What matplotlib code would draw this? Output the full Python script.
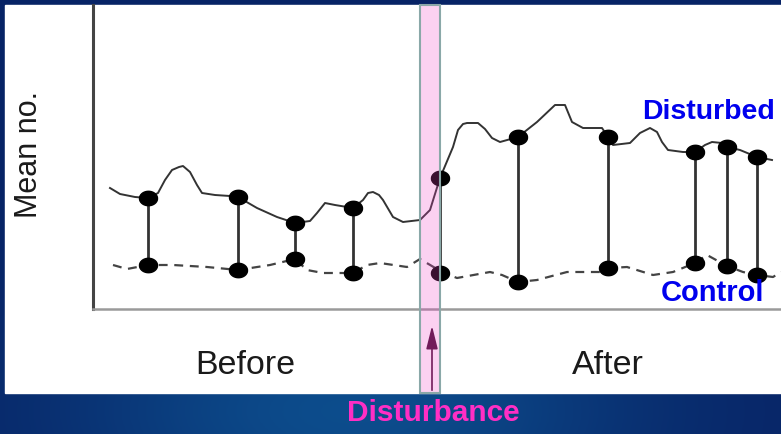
import numpy as np
import matplotlib.pyplot as plt
from matplotlib.patches import Rectangle

# schematic BACI plot: time (arbitrary units) vs mean number
dist_t = [17, 27, 42, 55, 65, 72, 79, 86, 90, 97, 104, 109, 122, 137, 145, 164, 184, 202, 217,
          224, 232, 242, 260, 270, 275, 280, 286, 290, 300, 310, 327, 337, 347,
          360, 365, 370, 374, 385, 392, 399, 407, 425, 444, 462, 472, 479, 490, 509, 515,
          520, 537, 547, 557, 564, 569, 575, 590, 602, 612, 619, 629, 634, 647, 664, 679]
dist_m = [121, 115, 112, 111, 116, 129, 139, 142, 143, 137, 124, 116, 114, 113, 112, 101, 92, 86,
          88, 96, 106, 104, 101, 109, 116, 117, 114, 109, 92, 87, 89, 99, 131,
          162, 179, 185, 186, 186, 180, 171, 167, 172, 187, 204, 204, 187, 181, 181, 172,
          164, 166, 176, 181, 177, 167, 159, 157, 157, 164, 167, 166, 162, 159, 152, 149]

ctrl_t = [20, 34, 55, 80, 114, 145, 177, 202, 214, 230, 260, 274, 287, 314, 327, 349,
          364, 397, 409, 425, 444, 474, 507, 517, 534, 560, 580, 602, 614, 634, 650, 664, 680, 688]
ctrl_m = [44, 40, 44, 44, 42, 39, 44, 50, 39, 36, 36, 44, 46, 42, 50, 37,
          31, 37, 34, 27, 29, 37, 37, 41, 42, 34, 37, 46, 54, 43, 37, 34, 32, 37]

# paired sampling times with disturbed / control means
pair_t = [55, 145, 202, 260, 347, 425, 515, 602, 634, 664]
pair_d = [111, 112, 86, 101, 131, 172, 172, 157, 162, 152]
pair_c = [44, 39, 50, 36, 36, 27, 41, 46, 43, 34]

dist_time = 327  # disturbance band from 327 to 347
W, H = 781, 434

fig = plt.figure(figsize=(7.81, 4.34), dpi=100)

# blue slide background with soft glow
bg = fig.add_axes([0, 0, 1, 1])
xx = np.linspace(-1, 1, 300)
yy = np.linspace(-1, 1, 150)
X, Y = np.meshgrid(xx, yy)
glow = np.exp(-((X + 0.1) ** 2 / 0.5 + (Y - 0.9) ** 2 / 0.3))
c0 = np.array([0.03, 0.14, 0.40])
c1 = np.array([0.05, 0.30, 0.55])
img = c0[None, None, :] + glow[..., None] * (c1 - c0)[None, None, :]
bg.imshow(img, extent=[0, 1, 0, 1], aspect="auto", origin="upper")
bg.set_xlim(0, 1); bg.set_ylim(0, 1); bg.axis("off")
bg.add_patch(Rectangle((5 / W, 1 - 393 / H), 1, (393 - 5) / H, color="white", zorder=2))

ax = fig.add_axes([93 / W, 1 - 309 / H, 1 - 93 / W, 304 / H])
ax.set_facecolor("none")
ax.set_xlim(0, 688)
ax.set_ylim(0, 304)
ax.set_xticks([]); ax.set_yticks([])
for s in ["top", "right"]:
    ax.spines[s].set_visible(False)
ax.spines["left"].set_color("#444444"); ax.spines["left"].set_linewidth(2.2)
ax.spines["bottom"].set_color("#9a9a9a"); ax.spines["bottom"].set_linewidth(1.8)

# slightly wide elliptical dots
th = np.linspace(0, 2 * np.pi, 40)
oval = list(zip(1.25 * np.cos(th), np.sin(th)))

ax.plot(dist_t, dist_m, color="#333333", lw=1.4, solid_joinstyle="round")
ax.plot(ctrl_t, ctrl_m, color="#444444", lw=1.6, dashes=(4, 3))
ax.vlines(pair_t, pair_c, pair_d, color="#333333", lw=2)
ax.plot(pair_t, pair_d, marker=oval, ls="none", color="black", ms=13)
ax.plot(pair_t, pair_c, marker=oval, ls="none", color="black", ms=13)

# arrow pointing at disturbance
ax.annotate("", xy=(dist_time + 12, -14), xytext=(dist_time + 12, -84),
            arrowprops=dict(arrowstyle="-|>,head_width=0.35,head_length=1.4",
                            color="#4a1038", lw=1.2), annotation_clip=False)

# disturbance band (translucent pink, spans beyond the axis)
ax.axvspan(dist_time, dist_time + 20, ymin=-84 / 304, ymax=1, facecolor="#f040c8",
           alpha=0.24, edgecolor="none", clip_on=False, zorder=5)
ax.axvspan(dist_time, dist_time + 20, ymin=-84 / 304, ymax=1, facecolor="none",
           edgecolor="#8aa8a8", lw=1.5, clip_on=False, zorder=6)

font = "Liberation Sans"
fig.text(29 / W, 1 - 155 / H, "Mean no.", rotation=90, ha="center", va="center",
         fontsize=22, color="#1a1a1a", family=font)
fig.text(245 / W, 1 - 366 / H, "Before", ha="center", va="center",
         fontsize=24.5, color="#1a1a1a", family=font)
fig.text(608 / W, 1 - 366 / H, "After", ha="center", va="center",
         fontsize=24.5, color="#1a1a1a", family=font)
fig.text(708 / W, 1 - 112 / H, "Disturbed", ha="center", va="center",
         fontsize=20.5, color="#0000ee", weight="bold", family=font)
fig.text(713 / W, 1 - 293 / H, "Control", ha="center", va="center",
         fontsize=21, color="#0000ee", weight="bold", family=font)
fig.text(433 / W, 1 - 413 / H, "Disturbance", ha="center", va="center",
         fontsize=21.5, color="#ff2ec4", weight="bold", family=font)

fig.savefig("out.png", dpi=100)
